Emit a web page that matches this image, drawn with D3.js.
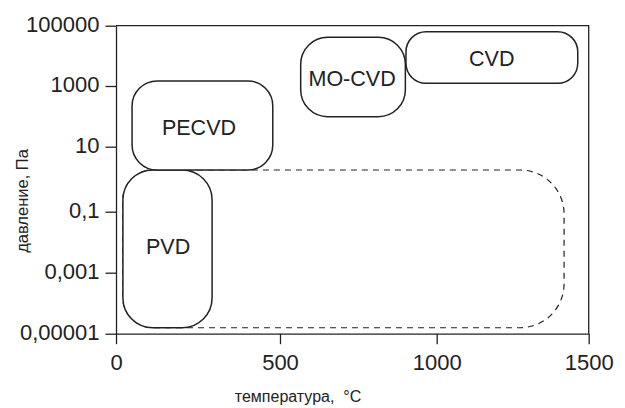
<!DOCTYPE html>
<html>
<head>
<meta charset="utf-8">
<script src="https://cdn.jsdelivr.net/npm/d3@7"></script>
<style>
  html, body { margin: 0; padding: 0; background: #fff; }
  svg { display: block; font-family: "Liberation Sans", Arial, sans-serif; }
</style>
</head>
<body>
<svg id="chart" width="625" height="408"></svg>
<script>
// Process windows: temperature (°C) vs pressure (Pa)
const regions = ["PECVD", "PVD", "MO-CVD", "CVD"];
const tMin = [49, 21, 566, 902];
const tMax = [478, 293, 900, 1464];
const pMin = [1.92, 1.57e-5, 97, 1230];
const pMax = [1466, 1.92, 41200, 63000];
const labelT = [253, 159, 730, 1181];
const labelP = [45, 0.0075, 1845, 8500];

// Dashed envelope of the PVD extension to high temperature
const envT = [21, 1419];
const envP = [1.57e-5, 1.92];

const xTicks = [0, 500, 1000, 1500];
const xTickLabels = ["0", "500", "1000", "1500"];
const yTicks = [1e5, 1e3, 10, 0.1, 1e-3, 1e-5];
const yTickLabels = ["100000", "1000", "10", "0,1", "0,001", "0,00001"];

const xTitle = "температура,  °C";
const yTitle = "давление, Па";

const svg = d3.select("#chart");
const ink = "#222";

// hand-drawn axis spacing: piecewise scales
const x = d3.scaleLinear()
  .domain(xTicks)
  .range([116, 280, 436.7, 588.7]);
const y = d3.scaleLog()
  .domain(yTicks)
  .range([25.7, 86, 146.7, 211.7, 272.7, 333.7]);

// frame (top and right sides)
svg.append("path")
  .attr("d", `M${x(0)},${y(1e5)}H${x(1500)}V${y(1e-5)}`)
  .attr("fill", "none").attr("stroke", ink).attr("stroke-width", 1.3);

const xAxis = svg.append("g")
  .attr("transform", `translate(0,${y(1e-5)})`)
  .call(d3.axisBottom(x).tickValues(xTicks)
    .tickFormat((d, i) => xTickLabels[i])
    .tickSizeInner(10.5).tickSizeOuter(0).tickPadding(10.5));

const yAxis = svg.append("g")
  .attr("transform", `translate(${x(0)},0)`)
  .call(d3.axisLeft(y).tickValues(yTicks)
    .tickFormat((d, i) => yTickLabels[i])
    .tickSizeInner(10.5).tickSizeOuter(0).tickPadding(6));
yAxis.selectAll("text").attr("dy", "0.25em");

[xAxis, yAxis].forEach(g => {
  g.selectAll("path, line").attr("stroke", ink).attr("stroke-width", 1.3);
  g.selectAll("text")
    .attr("fill", ink)
    .style("font-size", "22px")
    .style("font-family", "'Liberation Sans', Arial, sans-serif");
});

// axis titles
svg.append("text")
  .attr("x", 298).attr("y", 401.5)
  .attr("text-anchor", "middle")
  .attr("fill", ink)
  .style("font-size", "16px")
  .style("white-space", "pre")
  .text(xTitle);

svg.append("text")
  .attr("transform", "translate(27.5,201) rotate(-90)")
  .attr("text-anchor", "middle")
  .attr("fill", ink)
  .style("font-size", "16.5px")
  .text(yTitle);

// rounded rectangle with separate left/right corner radii
function roundRect(x0, y0, x1, y1, rl, rr) {
  const p = d3.path();
  p.moveTo(x0 + rl, y0);
  p.lineTo(x1 - rr, y0);
  p.arcTo(x1, y0, x1, y0 + rr, rr);
  p.lineTo(x1, y1 - rr);
  p.arcTo(x1, y1, x1 - rr, y1, rr);
  p.lineTo(x0 + rl, y1);
  p.arcTo(x0, y1, x0, y1 - rl, rl);
  p.lineTo(x0, y0 + rl);
  p.arcTo(x0, y0, x0 + rl, y0, rl);
  p.closePath();
  return p.toString();
}

// envelope first, region boxes are painted over it
svg.append("path")
  .attr("d", roundRect(x(envT[0]), y(envP[1]), x(envT[1]), y(envP[0]), 30, 44))
  .attr("fill", "none")
  .attr("stroke", ink)
  .attr("stroke-width", 1.2)
  .attr("stroke-dasharray", "6,5");

const radius = { "PECVD": 25, "PVD": 30, "MO-CVD": 27, "CVD": 20 };
const order = [1, 0, 2, 3];

const boxes = svg.append("g");
order.forEach(i => {
  boxes.append("path")
    .attr("d", roundRect(x(tMin[i]), y(pMax[i]), x(tMax[i]), y(pMin[i]),
      radius[regions[i]], radius[regions[i]]))
    .attr("fill", "#fff")
    .attr("stroke", ink)
    .attr("stroke-width", 1.5);
});

order.forEach(i => {
  boxes.append("text")
    .attr("x", x(labelT[i]))
    .attr("y", y(labelP[i]))
    .attr("dy", "0.36em")
    .attr("text-anchor", "middle")
    .attr("fill", ink)
    .style("font-size", "21.5px")
    .text(regions[i]);
});
</script>
</body>
</html>
